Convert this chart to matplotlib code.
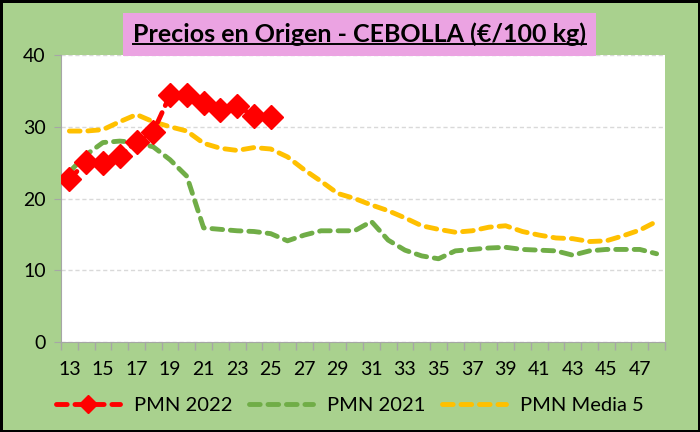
import numpy as np
import matplotlib.pyplot as plt
from matplotlib.lines import Line2D

semanas = list(range(13, 49))
pmn_2022 = [22.7, 25.1, 25.0, 25.9, 27.9, 29.3, 34.4, 34.4, 33.3, 32.4, 32.9, 31.5, 31.3]
pmn_2021 = [23.7, 26.1, 27.8, 28.0, 27.8, 27.2, 25.4, 23.1, 15.9, 15.7, 15.5, 15.4,
            15.1, 14.1, 14.9, 15.5, 15.5, 15.5, 16.8, 14.2, 12.8, 12.0, 11.6, 12.7,
            12.9, 13.1, 13.2, 12.9, 12.8, 12.7, 12.1, 12.7, 12.9, 12.9, 12.9, 12.3]
pmn_media5 = [29.4, 29.4, 29.6, 30.7, 31.7, 30.7, 30.0, 29.4, 27.7, 27.0, 26.7, 27.1,
              26.9, 25.8, 24.0, 22.4, 20.7, 20.0, 19.1, 18.3, 17.3, 16.2, 15.7, 15.3,
              15.5, 16.0, 16.2, 15.4, 14.9, 14.5, 14.4, 14.0, 14.1, 14.8, 15.6, 16.8]

plt.rcParams['font.family'] = ['Lato', 'DejaVu Sans']

verde = '#A9D18E'
fig = plt.figure(figsize=(7, 4.32), dpi=100, facecolor=verde,
                 edgecolor='black', linewidth=2.5)
ax = fig.add_axes([61/700, 1-342/432, 604/700, 287/432])
ax.set_facecolor('white')

x = np.arange(len(semanas))
dash = (2.2, 1.6)
ax.plot(x, pmn_media5, color='#FFC000', lw=3.5, ls=(0, dash),
        dash_capstyle='round', label='PMN Media 5', zorder=2)
ax.plot(x, pmn_2021, color='#70AD47', lw=3.5, ls=(0, dash),
        dash_capstyle='round', label='PMN 2021', zorder=3)
ax.plot(x[:len(pmn_2022)], pmn_2022, color='#FF0000', lw=3.5, ls=(0, dash),
        dash_capstyle='round', marker='D', ms=12, mec='#FF0000', label='PMN 2022', zorder=4)

ax.set_xlim(-0.5, len(semanas)-0.5)
ax.set_ylim(0, 40)
ax.set_yticks([0, 10, 20, 30, 40])
ax.yaxis.grid(True, color='#D9D9D9', ls=(0, (3, 2)), lw=1)
ax.set_axisbelow(True)

ax.set_xticks(x[::2])
ax.set_xticklabels([str(s) for s in semanas[::2]])
ax.set_xticks(np.arange(-0.5, len(semanas), 1), minor=True)
ax.tick_params(axis='x', which='major', length=0, pad=14, labelsize=14)
ax.tick_params(axis='x', which='minor', length=6, color='#A6A6A6', width=1)
ax.tick_params(axis='y', length=5, color='#A6A6A6', labelsize=14, pad=6)

for s in ['top', 'right']:
    ax.spines[s].set_visible(False)
ax.spines['left'].set_color('#A6A6A6')
ax.spines['bottom'].set_color('#A6A6A6')

h, l = ax.get_legend_handles_labels()
orden = [2, 1, 0]
leg = fig.legend([h[i] for i in orden], [l[i] for i in orden], loc='lower center',
                 bbox_to_anchor=(0.5, 0.0), ncol=3, frameon=False, fontsize=14.5,
                 handlelength=3.2, columnspacing=0.8, handletextpad=0.7,
                 markerscale=0.8)

titulo = fig.text(0.514, 0.92, 'Precios en Origen - CEBOLLA (€/100 kg)',
                  ha='center', va='center', fontsize=18, fontweight='bold',
                  bbox=dict(boxstyle='square,pad=0.4', fc='#EBA3E2', ec='none'))

fig.canvas.draw()
bb = titulo.get_window_extent().transformed(fig.transFigure.inverted())
y_sub = bb.y0 + 0.006
fig.add_artist(Line2D([bb.x0, bb.x1], [y_sub, y_sub], color='black', lw=1.4,
                      transform=fig.transFigure, zorder=10))

fig.savefig('out.png', dpi=100, facecolor=verde)
